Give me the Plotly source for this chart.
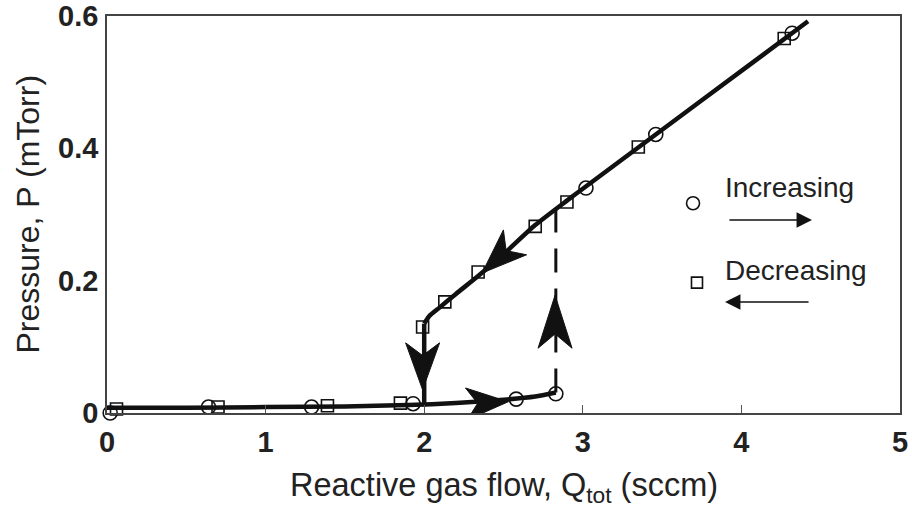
import math
import plotly.graph_objects as go

# ---- data ----
inc_x = [0.02, 0.64, 1.29, 1.93, 2.58, 2.83, 3.02, 3.46, 4.32]
inc_y = [0.000, 0.009, 0.009, 0.014, 0.021, 0.029, 0.340, 0.421, 0.574]

dec_x = [0.06, 0.70, 1.39, 1.85, 1.99, 2.13, 2.34, 2.70, 2.90, 3.35, 4.27]
dec_y = [0.006, 0.009, 0.011, 0.015, 0.130, 0.168, 0.213, 0.282, 0.319, 0.402, 0.566]

# fitted curves
low_x = [0.0, 0.5, 1.0, 1.5, 1.9, 2.2, 2.5, 2.7, 2.83]
low_y = [0.008, 0.008, 0.009, 0.010, 0.012, 0.015, 0.020, 0.025, 0.031]

up_x = [2.0, 2.03, 2.1, 2.2, 2.34, 2.5, 2.7, 2.9, 3.0, 3.46, 4.0, 4.42]
up_y = [0.135, 0.146, 0.160, 0.180, 0.207, 0.240, 0.284, 0.321, 0.339, 0.421, 0.517, 0.592]

drop_x = [2.0, 2.0]
drop_y = [0.135, 0.010]

jump_x = [2.83, 2.83]
jump_y = [0.031, 0.322]

# arrowheads: tip x, tip y, direction (deg, screen-math), length px, half-width px
arrow_tips_x = [1.99, 2.825, 2.53, 2.365]
arrow_tips_y = [0.035, 0.178, 0.017, 0.2115]
arrow_dirs = [-90, 90, 3, 223]
arrow_len = [47, 53, 42, 45]
arrow_hw = [17, 17, 16, 17]

x_ticks = [0, 1, 2, 3, 4, 5]
y_ticks = [0, 0.2, 0.4, 0.6]
y_ticklabels = ["0", "0.2", "0.4", "0.6"]

x_title = "Reactive gas flow, Q<sub>tot</sub> (sccm)"
y_title = "Pressure, P (mTorr)"

# ---- layout geometry ----
W, H = 912, 511
ML, MT = 107, 16
PW, PH = 793, 397
MR = W - ML - PW
MB = H - MT - PH
XR = [0, 5]
YR = [0, 0.6]
sx = PW / (XR[1] - XR[0])
sy = PH / (YR[1] - YR[0])

INK = "#111111"
TXT = "#222222"
FONT = "Liberation Sans, Arial, sans-serif"

fig = go.Figure()

# fitted lines
for xs, ys in [(low_x, low_y), (up_x, up_y), (drop_x, drop_y)]:
    fig.add_trace(go.Scatter(x=xs, y=ys, mode="lines",
                             line=dict(color=INK, width=4.5, shape="spline", smoothing=0.6),
                             showlegend=False, hoverinfo="skip", cliponaxis=False))
fig.add_trace(go.Scatter(x=jump_x, y=jump_y, mode="lines", line=dict(color=INK, width=3, dash="24px,16px"),
                         showlegend=False, hoverinfo="skip"))


def arrow_poly(tx, ty, ang, L, hw, notch=0.27):
    a = math.radians(ang)
    ux, uy = math.cos(a), math.sin(a)
    px_, py_ = -uy, ux
    pts = [(0, 0),
           (-L * ux + hw * px_, -L * uy + hw * py_),
           (-L * (1 - notch) * ux, -L * (1 - notch) * uy),
           (-L * ux - hw * px_, -L * uy - hw * py_),
           (0, 0)]
    xs = [tx + p[0] / sx for p in pts]
    ys = [ty + p[1] / sy for p in pts]
    return xs, ys


for tx, ty, ang, L, hw in zip(arrow_tips_x, arrow_tips_y, arrow_dirs, arrow_len, arrow_hw):
    xs, ys = arrow_poly(tx, ty, ang, L, hw)
    fig.add_trace(go.Scatter(x=xs, y=ys, mode="lines", fill="toself", fillcolor=INK,
                             line=dict(color=INK, width=1), showlegend=False, hoverinfo="skip"))

# markers
fig.add_trace(go.Scatter(x=dec_x, y=dec_y, mode="markers", name="Decreasing",
                         marker=dict(symbol="square-open", size=12, color=INK, line=dict(width=1.6)),
                         showlegend=False, cliponaxis=False))
fig.add_trace(go.Scatter(x=inc_x, y=inc_y, mode="markers", name="Increasing",
                         marker=dict(symbol="circle-open", size=14, color=INK, line=dict(width=1.6)),
                         showlegend=False, cliponaxis=False))

# legend (drawn manually)
legend_labels = ["Increasing", "Decreasing"]
legend_symbols = ["circle-open", "square-open"]
legend_marker_x = [3.695, 3.72]
legend_marker_y = [0.317, 0.197]
legend_text_x = 3.884
legend_text_y = [0.3415, 0.216]
legend_arrow_y = [0.2917, 0.1677]
legend_arrow_x0 = [3.915, 4.433]
legend_arrow_x1 = [4.445, 3.897]

for sym, mx, my in zip(legend_symbols, legend_marker_x, legend_marker_y):
    fig.add_trace(go.Scatter(x=[mx], y=[my], mode="markers",
                             marker=dict(symbol=sym, size=13 if sym.startswith("circle") else 11, color=INK,
                                         line=dict(width=1.6)),
                             showlegend=False, hoverinfo="skip"))

annotations = []
for i, lab in enumerate(legend_labels):
    annotations.append(dict(x=legend_text_x, y=legend_text_y[i], xref="x", yref="y", text=lab, showarrow=False,
                            xanchor="left", yanchor="middle", font=dict(family=FONT, size=28, color=TXT)))
    annotations.append(dict(x=legend_arrow_x1[i], y=legend_arrow_y[i], ax=legend_arrow_x0[i], ay=legend_arrow_y[i],
                            xref="x", yref="y", axref="x", ayref="y", showarrow=True, arrowhead=2,
                            arrowsize=2.2, arrowwidth=1.4, arrowcolor=INK, text=""))

# axis titles as annotations (pixel placement)
annotations.append(dict(x=0.5, y=-(487 - (MT + PH)) / PH, xref="paper", yref="paper", text=x_title,
                        showarrow=False, xanchor="center", yanchor="middle",
                        font=dict(family=FONT, size=32.5, color=TXT)))
annotations.append(dict(x=-(ML - 27) / PW, y=0.5, xref="paper", yref="paper", text=y_title, textangle=-90,
                        showarrow=False, xanchor="center", yanchor="middle",
                        font=dict(family=FONT, size=32, color=TXT)))

fig.update_layout(
    width=W, height=H,
    margin=dict(l=ML, r=MR, t=MT, b=MB, autoexpand=False),
    plot_bgcolor="white", paper_bgcolor="white",
    font=dict(family=FONT, color=TXT),
    annotations=annotations,
    xaxis=dict(range=XR, tickvals=x_ticks, ticktext=[str(v) for v in x_ticks], automargin=False,
               tickfont=dict(size=29, family=FONT, weight="bold", color=TXT), ticklabeloverflow="allow",
               ticks="inside", ticklen=8, tickwidth=1.2, tickcolor="#555", ticklabelstandoff=2,
               showline=True, linecolor="#444", linewidth=1.5, mirror=True,
               showgrid=False, zeroline=False),
    yaxis=dict(range=YR, tickvals=y_ticks, ticktext=y_ticklabels, automargin=False,
               tickfont=dict(size=29, family=FONT, weight="bold", color=TXT), ticklabeloverflow="allow",
               ticks="", ticklabelstandoff=1, showline=True, linecolor="#444", linewidth=1.5, mirror=True,
               showgrid=False, zeroline=False),
)

fig.write_html("out.html", config={"displayModeBar": False},
               post_script="document.body.style.margin='0';document.body.style.overflow='hidden';")
